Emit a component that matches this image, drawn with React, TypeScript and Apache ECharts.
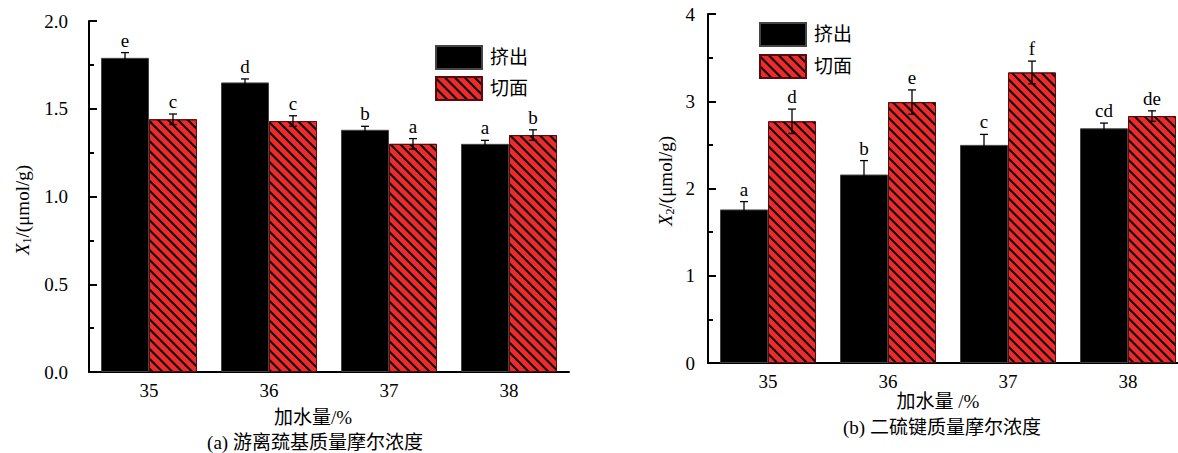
import React, { useEffect, useRef } from "react";
import * as echarts from "echarts";

const categories = ["35", "36", "37", "38"];

// Panel (a): free sulfhydryl
const extrudedA = [1.79, 1.65, 1.38, 1.30];
const extrudedAErr = [0.03, 0.02, 0.02, 0.02];
const extrudedALetters = ["e", "d", "b", "a"];
const cutA = [1.44, 1.43, 1.30, 1.35];
const cutAErr = [0.03, 0.03, 0.03, 0.03];
const cutALetters = ["c", "c", "a", "b"];

// Panel (b): disulfide bond
const extrudedB = [1.76, 2.16, 2.50, 2.69];
const extrudedBErr = [0.09, 0.16, 0.12, 0.06];
const extrudedBLetters = ["a", "b", "c", "cd"];
const cutB = [2.77, 2.99, 3.33, 2.83];
const cutBErr = [0.14, 0.14, 0.13, 0.06];
const cutBLetters = ["d", "e", "f", "de"];

const yTicksA = [0, 0.5, 1.0, 1.5, 2.0];
const yTicksB = [0, 1, 2, 3, 4];

const SERIF = "Liberation Serif";
const FONT = "Liberation Serif, Noto Sans CJK SC, serif";
const RED = "#ee2a2a";

export default function App() {
  const ref = useRef<HTMLDivElement>(null);

  useEffect(() => {
    if (!ref.current) return;
    const chart = echarts.init(ref.current, undefined, { renderer: "svg" });

    const hatch = {
      symbol: "rect",
      symbolSize: 1,
      color: "#000",
      dashArrayX: [1, 0],
      dashArrayY: [1.1, 4.9],
      rotation: Math.PI / 4,
    };

    const barSeries = (name: string, data: number[], axis: number, red: boolean) => ({
      type: "bar",
      name,
      xAxisIndex: axis,
      yAxisIndex: axis,
      data,
      barGap: "0%",
      barCategoryGap: "20%",
      itemStyle: red
        ? { color: RED, borderColor: "#5a0c0c", borderWidth: 1, decal: hatch }
        : { color: "#000", borderColor: "#444", borderWidth: 1 },
    });

    const errSeries = (
      values: number[],
      errs: number[],
      letters: string[],
      axis: number,
      side: number
    ) => ({
      type: "custom",
      xAxisIndex: axis,
      yAxisIndex: axis,
      z: 5,
      clip: false,
      silent: true,
      data: values.map((v, i) => [i, v, errs[i]]),
      renderItem: (params: any, api: any) => {
        const cat = api.value(0);
        const v = api.value(1);
        const e = api.value(2);
        const catW = api.size([1, 0])[0];
        const x = api.coord([cat, v])[0] + side * 0.2 * catW;
        const yTop = api.coord([cat, v + e])[1];
        const yBot = api.coord([cat, v - e])[1];
        const cap = 4;
        const ls = { stroke: "#000", lineWidth: 1.3 };
        return {
          type: "group",
          children: [
            { type: "line", shape: { x1: x, y1: yTop, x2: x, y2: yBot }, style: ls },
            { type: "line", shape: { x1: x - cap, y1: yTop, x2: x + cap, y2: yTop }, style: ls },
            { type: "line", shape: { x1: x - cap, y1: yBot, x2: x + cap, y2: yBot }, style: ls },
            {
              type: "text",
              x: x,
              y: yTop - 3,
              style: {
                text: letters[params.dataIndex],
                fill: "#000",
                fontSize: 19,
                fontFamily: SERIF,
                align: "center",
                verticalAlign: "bottom",
              },
            },
          ],
        };
      },
    });

    const xAxis = (i: number) => ({
      type: "category",
      gridIndex: i,
      data: categories,
      axisLine: { lineStyle: { color: "#000", width: 2 } },
      axisTick: { inside: true, length: 5, lineStyle: { color: "#000", width: 2 } },
      axisLabel: { color: "#000", fontSize: 19, margin: 9, fontFamily: SERIF },
    });

    const yAxis = (i: number, ticks: number[], margin: number, digits: number) => ({
      type: "value",
      gridIndex: i,
      min: ticks[0],
      max: ticks[ticks.length - 1],
      interval: ticks[1] - ticks[0],
      axisLine: { show: true, lineStyle: { color: "#000", width: 2 } },
      axisTick: { show: true, inside: true, length: 8, lineStyle: { color: "#000", width: 2 } },
      minorTick: { show: true, splitNumber: 2, length: 5, lineStyle: { color: "#000", width: 2 } },
      splitLine: { show: false },
      axisLabel: {
        color: "#000",
        fontSize: 19,
        margin,
        fontFamily: SERIF,
        formatter: (v: number) => v.toFixed(digits),
      },
    });

    const legend = (left: number, top: number, gap: number) => ({
      orient: "vertical",
      left,
      top,
      padding: 0,
      icon: "rect",
      itemWidth: 46,
      itemHeight: 23,
      itemGap: gap,
      data: ["挤出", "切面"],
      textStyle: { fontSize: 19, color: "#000", fontFamily: FONT, padding: [0, 0, 0, 3] },
    });

    const yName = (x: number, y: number, sub: string) => ({
      type: "text",
      x,
      y,
      rotation: Math.PI / 2,
      style: {
        text: `{i|X}{s|${sub}}{n|/(μmol/g)}`,
        align: "center",
        verticalAlign: "middle",
        fill: "#000",
        rich: {
          i: { fontStyle: "italic", fontSize: 19, fontFamily: SERIF, fill: "#000" },
          s: { fontSize: 12, fontFamily: SERIF, padding: [9, 0, 0, 0], fill: "#000" },
          n: { fontSize: 19, fontFamily: SERIF, fill: "#000" },
        },
      },
    });

    const label = (x: number, y: number, text: string) => ({
      type: "text",
      x,
      y,
      style: {
        text,
        fill: "#000",
        fontSize: 19,
        fontFamily: FONT,
        align: "center",
        verticalAlign: "middle",
      },
    });

    chart.setOption({
      animation: false,
      textStyle: { fontFamily: FONT },
      grid: [
        { left: 89, top: 21, width: 480, height: 351 },
        { left: 708, top: 14, width: 480, height: 349 },
      ],
      xAxis: [xAxis(0), xAxis(1)],
      yAxis: [yAxis(0, yTicksA, 21, 1), yAxis(1, yTicksB, 13, 0)],
      legend: [legend(435, 45, 6), legend(759, 22, 7)],
      series: [
        barSeries("挤出", extrudedA, 0, false),
        barSeries("切面", cutA, 0, true),
        barSeries("挤出", extrudedB, 1, false),
        barSeries("切面", cutB, 1, true),
        errSeries(extrudedA, extrudedAErr, extrudedALetters, 0, -1),
        errSeries(cutA, cutAErr, cutALetters, 0, 1),
        errSeries(extrudedB, extrudedBErr, extrudedBLetters, 1, -1),
        errSeries(cutB, cutBErr, cutBLetters, 1, 1),
      ],
      graphic: [
        yName(22, 210, "1"),
        yName(665, 181, "2"),
        label(313, 417, "加水量/%"),
        label(315, 442, "(a) 游离巯基质量摩尔浓度"),
        label(938, 401, "加水量 /%"),
        label(942, 427, "(b) 二硫键质量摩尔浓度"),
      ],
    });

    return () => chart.dispose();
  }, []);

  return (
    <div
      style={{
        position: "fixed",
        left: 0,
        top: 0,
        width: 1178,
        height: 453,
        overflow: "hidden",
        background: "#fff",
      }}
    >
      <div ref={ref} style={{ width: 1200, height: 453 }} />
    </div>
  );
}
